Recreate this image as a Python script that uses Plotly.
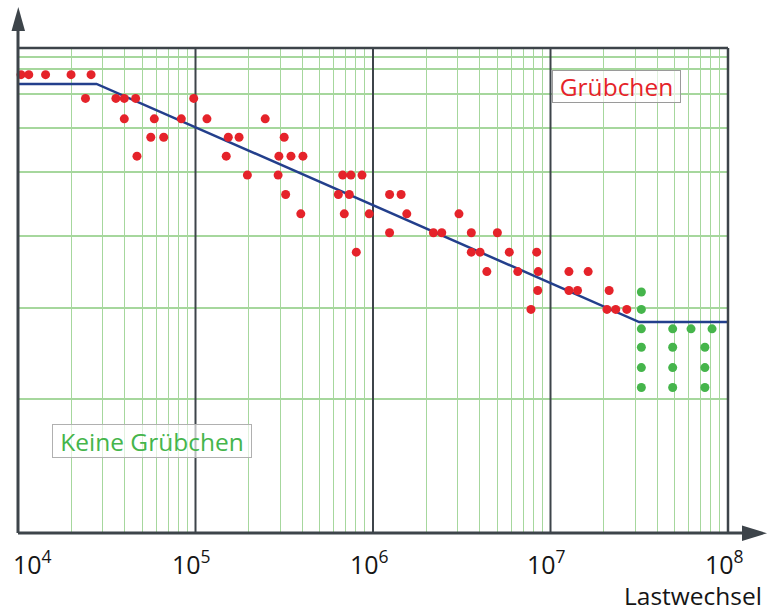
import numpy as np
import plotly.graph_objects as go

# Load cycles (log scale) and relative stress level of each tested gear
red_x = [1.04e4, 1.15e4, 1.43e4, 1.99e4, 2.58e4,
         2.40e4, 3.56e4, 3.97e4, 4.60e4, 9.77e4,
         3.97e4, 5.86e4, 8.32e4, 1.16e5, 2.47e5,
         5.60e4, 6.62e4, 1.53e5, 1.76e5, 3.16e5,
         4.68e4, 1.49e5, 2.95e5, 3.45e5, 4.03e5,
         1.96e5, 2.92e5, 6.75e5, 7.51e5, 8.67e5,
         3.22e5, 6.38e5, 7.35e5, 1.24e6, 1.44e6,
         3.92e5, 6.89e5, 9.52e5, 1.55e6, 3.05e6,
         1.24e6, 2.19e6, 2.44e6, 3.58e6, 5.02e6,
         8.05e5, 3.58e6, 4.01e6, 5.86e6, 8.36e6,
         4.38e6, 6.54e6, 8.53e6, 1.27e7, 1.63e7,
         8.47e6, 1.27e7, 1.42e7, 2.14e7,
         7.76e6, 2.08e7, 2.33e7, 2.69e7]
red_y = [94.5] * 5 + [89.6] * 5 + [85.4] * 5 + [81.6] * 5 + [77.7] * 5 + \
        [73.8] * 5 + [69.8] * 5 + [65.8] * 5 + [61.9] * 5 + [57.9] * 5 + \
        [53.9] * 5 + [50.0] * 4 + [46.1] * 4

green_x = [3.25e7, 3.25e7, 3.25e7, 3.25e7, 3.25e7, 3.25e7,
           4.88e7, 4.88e7, 4.88e7, 4.88e7,
           6.19e7, 8.13e7,
           7.41e7, 7.41e7, 7.41e7]
green_y = [49.7, 46.1, 42.1, 38.3, 34.1, 30.0,
           42.1, 38.3, 34.1, 30.0,
           42.1, 42.1,
           38.3, 34.1, 30.0]

# Woehler line: horizontal, sloped, endurance limit
curve_x = [1e4, 2.77e4, 3.16e7, 1e8]
curve_y = [92.6, 92.6, 43.5, 43.5]

decades = [1e4, 1e5, 1e6, 1e7, 1e8]
decade_labels = ["10<sup>4</sup>", "10<sup>5</sup>", "10<sup>6</sup>",
                 "10<sup>7</sup>", "10<sup>8</sup>"]
minor_x = [k * d for d in decades[:-1] for k in range(2, 10)]
grid_y = [98.1, 95.6, 90.5, 83.6, 74.4, 61.2, 46.3, 27.6]
y_range = [0, 100]

AXIS = "#3d444a"
GRID = "#a6d79d"
RED = "#e5232a"
GREEN = "#45b54b"
BLUE = "#233f8c"
FONT = "Open Sans"

fig = go.Figure()

# dark decade lines
dx, dy = [], []
for d in decades[1:-1]:
    dx += [d, d, None]
    dy += [y_range[0], y_range[1], None]
fig.add_trace(go.Scatter(x=dx, y=dy, mode="lines",
                         line=dict(color=AXIS, width=2),
                         hoverinfo="skip", showlegend=False))

fig.add_trace(go.Scatter(x=curve_x, y=curve_y, mode="lines",
                         line=dict(color=BLUE, width=2.5),
                         showlegend=False, cliponaxis=False))
fig.add_trace(go.Scatter(x=red_x, y=red_y, mode="markers",
                         marker=dict(color=RED, size=9, line=dict(width=0)),
                         showlegend=False, cliponaxis=False))
fig.add_trace(go.Scatter(x=green_x, y=green_y, mode="markers",
                         marker=dict(color=GREEN, size=9, line=dict(width=0)),
                         showlegend=False, cliponaxis=False))

fig.update_xaxes(type="log", range=[4, 8], tickmode="array", tickvals=minor_x,
                 showticklabels=False, ticks="", showgrid=True,
                 gridcolor=GRID, gridwidth=1.3, zeroline=False, showline=False)
fig.update_yaxes(range=y_range, tickmode="array", tickvals=grid_y,
                 showticklabels=False, ticks="", showgrid=True,
                 gridcolor=GRID, gridwidth=1.6, zeroline=False, showline=False)

W, H = 768, 611
L, R, T, B = 18, 40, 48, 78
pw, ph = W - L - R, H - T - B


def px(x):
    return (x - L) / pw


def py(y):
    return (H - B - y) / ph


shapes = [
    # frame: top and right
    dict(type="line", xref="paper", yref="paper", x0=0, x1=1, y0=1, y1=1,
         line=dict(color=AXIS, width=2.5)),
    dict(type="line", xref="paper", yref="paper", x0=1, x1=1, y0=0, y1=1,
         line=dict(color=AXIS, width=2.5)),
    # y axis with arrow
    dict(type="line", xref="paper", yref="paper", x0=0, x1=0, y0=0, y1=py(30),
         line=dict(color=AXIS, width=3)),
    dict(type="path", xref="paper", yref="paper",
         path=f"M {px(11.5)} {py(31)} L {px(25)} {py(31)} L {px(18.3)} {py(7)} Z",
         fillcolor=AXIS, line=dict(width=0)),
    # x axis with arrow
    dict(type="line", xref="paper", yref="paper", x0=0, x1=px(745), y0=0, y1=0,
         line=dict(color=AXIS, width=3)),
    dict(type="path", xref="paper", yref="paper",
         path=f"M {px(742)} {py(525.5)} L {px(742)} {py(541)} L {px(767)} {py(533.3)} Z",
         fillcolor=AXIS, line=dict(width=0)),
]

annotations = []
for i, (d, lab) in enumerate(zip(decades, decade_labels)):
    annotations.append(dict(
        x=np.log10(d), xref="x", y=py(562), yref="paper", text=lab,
        showarrow=False, xanchor="left" if i == 0 else "center",
        xshift=-7 if i == 0 else -4, yanchor="middle",
        font=dict(family=FONT, size=25, color="#151515")))

annotations.append(dict(
    x=px(764), xref="paper", y=py(595), yref="paper", text="Lastwechsel",
    showarrow=False, xanchor="right", yanchor="middle",
    font=dict(family=FONT, size=24.5, color="#151515")))

annotations.append(dict(
    x=px(616), xref="paper", y=py(86), yref="paper", text="Grübchen",
    showarrow=False, xanchor="center", yanchor="middle",
    width=127, height=31, borderpad=0, borderwidth=1, bordercolor="#9a9a9a",
    bgcolor="rgba(255,255,255,0.65)",
    font=dict(family=FONT, size=24.5, color=RED)))

annotations.append(dict(
    x=px(152), xref="paper", y=py(440.5), yref="paper", text="Keine Grübchen",
    showarrow=False, xanchor="center", yanchor="middle",
    width=198, height=32, borderpad=0, borderwidth=1, bordercolor="#b0b0b0",
    bgcolor="rgba(255,255,255,0.65)",
    font=dict(family=FONT, size=24.5, color=GREEN)))

fig.update_layout(
    width=W, height=H,
    margin=dict(l=L, r=R, t=T, b=B),
    plot_bgcolor="white", paper_bgcolor="white",
    shapes=shapes, annotations=annotations,
    showlegend=False,
)

fig.write_html("out.html", config={"displayModeBar": False})
